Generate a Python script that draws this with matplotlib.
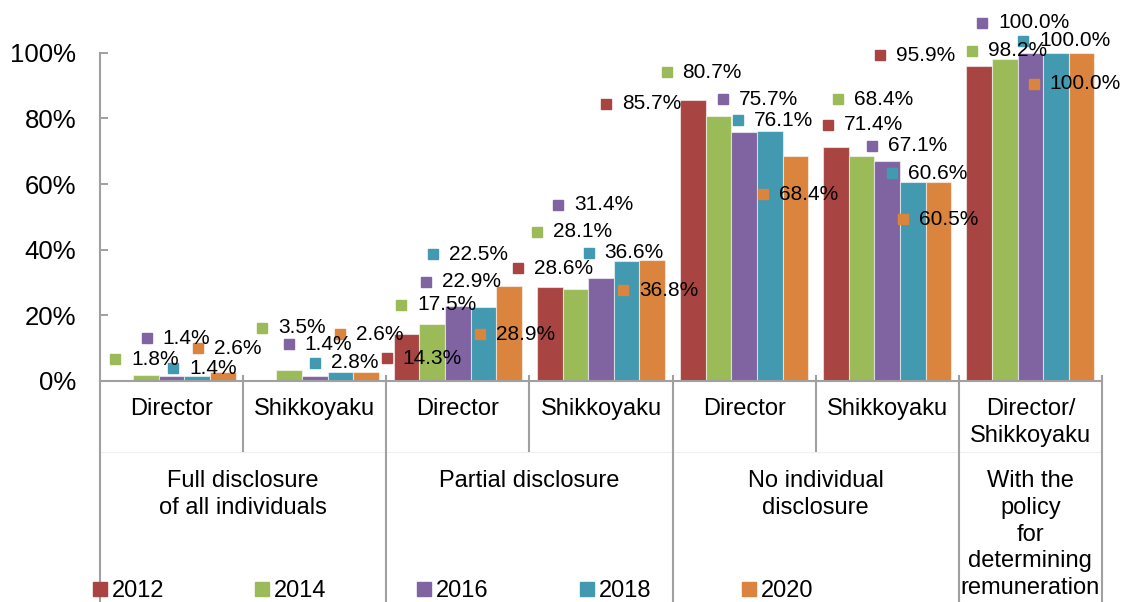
import numpy as np
import matplotlib
matplotlib.use("Agg")
import matplotlib.pyplot as plt
from matplotlib.transforms import ScaledTranslation, blended_transform_factory
from matplotlib.lines import Line2D

plt.rcParams['font.family'] = ['Liberation Sans', 'DejaVu Sans']

# ---------------- data ----------------
sub_labels = ['Director', 'Shikkoyaku', 'Director', 'Shikkoyaku',
              'Director', 'Shikkoyaku', 'Director/\nShikkoyaku']
group_labels = ['Full disclosure\nof all individuals', 'Partial disclosure',
                'No individual\ndisclosure',
                'With the\npolicy\nfor\ndetermining\nremuneration']
group_spans = [(0, 1), (2, 3), (4, 5), (6, 6)]
years = ['2012', '2014', '2016', '2018', '2020']
v2012 = [np.nan, np.nan, 14.3, 28.6, 85.7, 71.4, 95.9]
v2014 = [1.8, 3.5, 17.5, 28.1, 80.7, 68.4, 98.2]
v2016 = [1.4, 1.4, 22.9, 31.4, 75.7, 67.1, 100.0]
v2018 = [1.4, 2.8, 22.5, 36.6, 76.1, 60.6, 100.0]
v2020 = [2.6, 2.6, 28.9, 36.8, 68.4, 60.5, 100.0]
series = [v2012, v2014, v2016, v2018, v2020]
yticks = [0, 20, 40, 60, 80, 100]

# ---------------- style ----------------
colors = ['#A84542', '#9BBB59', '#8064A2', '#4399B0', '#DB843D']
# label marker offsets (pixels: right, up) relative to each bar top
label_offsets = [
    [None, None, (-20, -24), (-32, 19), (-87, -4), (-8, 22), (-99, 11)],
    [(-31, 16), (-27, 42), (-31, 19), (-38, 57), (-52, 44), (-24, 57), (-33, 8)],
    [(-25, 38), (-26, 32), (-32, 24), (-43, 73), (-21, 33), (-15, 15), (-48, 30)],
    [(-24, 8), (-25, 9), (-50, 53), (-38, 8), (-32, 11), (-21, 9), (-33, 12)],
    [(-25, 24), (-26, 38), (-29, -48), (-29, -30), (-32, -38), (-36, -37), (-48, -31)],
]
W, H, DPI = 1123, 602, 100
ax_left, ax_right, ax_top, ax_bottom = 100, 1102, 52.7, 381
axis_gray = '#A0A0A0'

fig = plt.figure(figsize=(W / DPI, H / DPI), dpi=DPI)
ax = fig.add_axes([ax_left / W, (H - ax_bottom) / H,
                   (ax_right - ax_left) / W, (ax_bottom - ax_top) / H])
ax_h = ax_bottom - ax_top

n = len(sub_labels)
x = np.arange(n)
bw = 0.179
for j, (vals, c) in enumerate(zip(series, colors)):
    xs = x + (j - 2) * bw
    ax.bar(xs, vals, width=bw, color=c, edgecolor=(1, 1, 1, 0.55),
           linewidth=0.8, zorder=2)

ax.set_xlim(-0.5, n - 0.5)
ax.set_ylim(0, 100)
ax.set_yticks(yticks)
ax.set_yticklabels([f'{t}%' for t in yticks])
ax.tick_params(axis='y', direction='in', length=6, width=1.4, color=axis_gray,
               labelsize=18.5, pad=17)
ax.set_xticks([])
for s in ['top', 'right']:
    ax.spines[s].set_visible(False)
for s in ['left', 'bottom']:
    ax.spines[s].set_color(axis_gray)
    ax.spines[s].set_linewidth(1.5)

# data labels with legend keys
for j, (vals, c) in enumerate(zip(series, colors)):
    for i, v in enumerate(vals):
        if np.isnan(v) or label_offsets[j][i] is None:
            continue
        dx, up = label_offsets[j][i]
        xb = x[i] + (j - 2) * bw
        tm = ax.transData + ScaledTranslation(dx / DPI, up / DPI, fig.dpi_scale_trans)
        ax.plot([xb], [v], marker='s', ms=7.6, color=c, linestyle='none',
                transform=tm, clip_on=False, zorder=4)
        tt = ax.transData + ScaledTranslation((dx + 16) / DPI, up / DPI, fig.dpi_scale_trans)
        ax.text(xb, v, f'{v:.1f}%', transform=tt, ha='left', va='center',
                fontsize=15, zorder=5, clip_on=False)

# multi-level category axis
bt = blended_transform_factory(ax.transData, ax.transAxes)
def fy(ypx):
    return (ax_bottom - ypx) / ax_h

ax.plot([-0.5, n - 0.5], [fy(452), fy(452)], color='#EFEFEF', lw=0.8,
        transform=bt, clip_on=False, zorder=0)
group_edges = set()
for a, b in group_spans:
    group_edges.add(a - 0.5)
    group_edges.add(b + 0.5)
for k in range(n + 1):
    xe = k - 0.5
    y0 = fy(375) if k > 0 else 0
    y1 = fy(602) if xe in group_edges else fy(452)
    ax.plot([xe, xe], [y0, y1], color=axis_gray, lw=1.5, transform=bt,
            clip_on=False, zorder=1, solid_capstyle='butt')

line_px = 26.8
for i, lab in enumerate(sub_labels):
    for li, line in enumerate(lab.split('\n')):
        ax.text(x[i], fy(409 + li * line_px), line, transform=bt, ha='center',
                va='center', fontsize=17)
for (a, b), lab in zip(group_spans, group_labels):
    xc = (a + b) / 2
    for li, line in enumerate(lab.split('\n')):
        ax.text(xc, fy(481 + li * line_px), line, transform=bt, ha='center',
                va='center', fontsize=17)

# legend
handles = [Line2D([], [], marker='s', linestyle='none', ms=9.4, color=c)
           for c in colors]
fig.legend(handles, years, loc='center left',
           bbox_to_anchor=(92.5 / W, 1 - 591 / H), ncol=5, frameon=False,
           fontsize=17, handlelength=0.6, handletextpad=0.2,
           columnspacing=3.85, borderpad=0, borderaxespad=0)

fig.savefig('out.png', dpi=DPI)
